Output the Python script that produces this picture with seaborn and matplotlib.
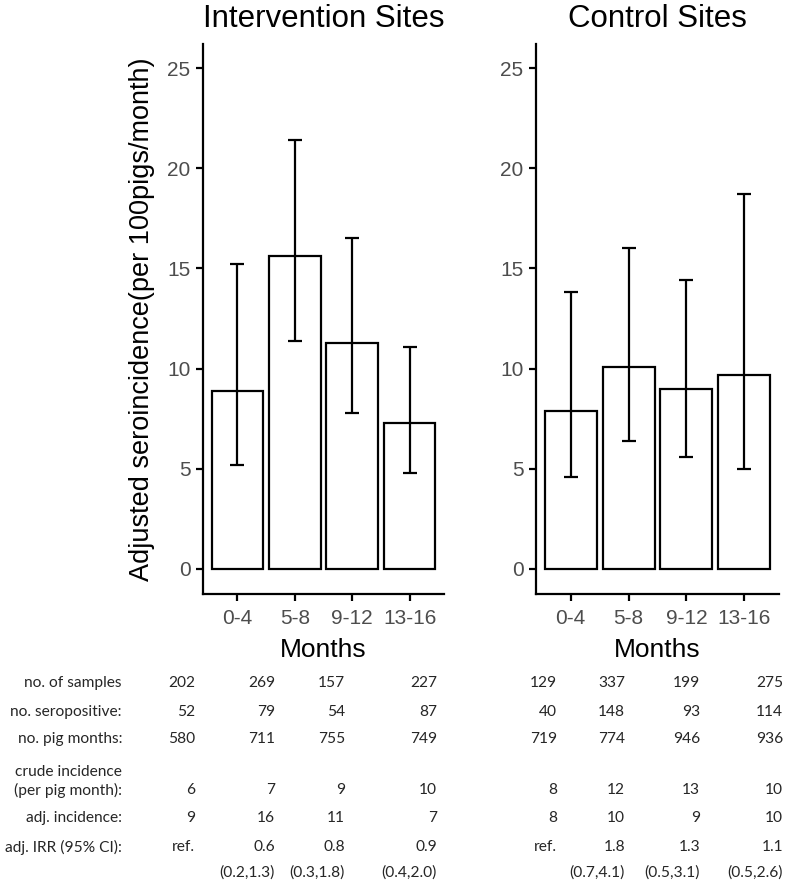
import matplotlib
matplotlib.use("Agg")
import matplotlib.pyplot as plt
import seaborn as sns
import pandas as pd
import numpy as np

# ---- data ----
months = ["0-4", "5-8", "9-12", "13-16"]
interv_inc = [8.9, 15.6, 11.3, 7.3]
interv_lo = [5.2, 11.4, 7.8, 4.8]
interv_hi = [15.2, 21.4, 16.5, 11.1]
ctrl_inc = [7.9, 10.1, 9.0, 9.7]
ctrl_lo = [4.6, 6.4, 5.6, 5.0]
ctrl_hi = [13.8, 16.0, 14.4, 18.7]

row_labels = ["no. of samples", "no. seropositive:", "no. pig months:",
              "crude incidence\n(per pig month):", "adj. incidence:",
              "adj. IRR (95% CI):", ""]
interv_samples = ["202", "269", "157", "227"]
interv_seropos = ["52", "79", "54", "87"]
interv_pigmonths = ["580", "711", "755", "749"]
interv_crude = ["6", "7", "9", "10"]
interv_adj = ["9", "16", "11", "7"]
interv_irr = ["ref.", "0.6", "0.8", "0.9"]
interv_ci = ["", "(0.2,1.3)", "(0.3,1.8)", "(0.4,2.0)"]
ctrl_samples = ["129", "337", "199", "275"]
ctrl_seropos = ["40", "148", "93", "114"]
ctrl_pigmonths = ["719", "774", "946", "936"]
ctrl_crude = ["8", "12", "13", "10"]
ctrl_adj = ["8", "10", "9", "10"]
ctrl_irr = ["ref.", "1.8", "1.3", "1.1"]
ctrl_ci = ["", "(0.7,4.1)", "(0.5,3.1)", "(0.5,2.6)"]

sns.set_theme(style="ticks")
plt.rcParams['font.family'] = ['Liberation Sans', 'DejaVu Sans']

W, H = 789, 885
fig = plt.figure(figsize=(W / 100, H / 100), dpi=100)

def px_axes(x0, x1, ytop, ybot):
    return fig.add_axes([x0 / W, (H - ybot) / H, (x1 - x0) / W, (ybot - ytop) / H])

ax1 = px_axes(203, 444, 44, 594)
ax2 = px_axes(536, 779, 44, 594)

panels = [
    (ax1, "Intervention Sites", interv_inc, interv_lo, interv_hi),
    (ax2, "Control Sites", ctrl_inc, ctrl_lo, ctrl_hi),
]

for ax, title, inc, lo, hi in panels:
    df = pd.DataFrame({"Months": months, "inc": inc})
    sns.barplot(data=df, x="Months", y="inc", ax=ax, color="white",
                edgecolor="black", linewidth=1.6, width=0.9, errorbar=None)
    inc_a = np.array(inc)
    yerr = [inc_a - np.array(lo), np.array(hi) - inc_a]
    ax.errorbar(np.arange(len(months)), inc_a, yerr=yerr, fmt="none",
                ecolor="black", elinewidth=1.6, capsize=5, capthick=1.6)
    ax.set_xlim(-0.6, 3.6)
    ax.set_ylim(-1.25, 26.2)
    ax.set_yticks([0, 5, 10, 15, 20, 25])
    ax.set_title(title, fontsize=22.5, pad=12, color="black")
    ax.set_xlabel("Months", fontsize=19, color="black", labelpad=7)
    ax.set_ylabel("")
    for s in ["top", "right"]:
        ax.spines[s].set_visible(False)
    for s in ["left", "bottom"]:
        ax.spines[s].set_linewidth(1.6)
        ax.spines[s].set_color("black")
    ax.tick_params(axis="both", labelsize=15, labelcolor="#4d4d4d",
                   length=5, width=1.6, color="black")
    ax.tick_params(axis="x", pad=6)
    ax.tick_params(axis="y", pad=4)

ax1.set_ylabel("Adjusted seroincidence(per 100pigs/month)", fontsize=19.5,
               color="black", labelpad=9)

# ---- table ----
tfont = ['Lato', 'DejaVu Sans']
tsize = 11.2
row_y = [683, 712, 739, 790, 818, 847, 873]
label_x = 122
interv_cols = [195, 275, 345, 437]
ctrl_cols = [557, 625, 700, 783]

interv_rows = [interv_samples, interv_seropos, interv_pigmonths, interv_crude,
               interv_adj, interv_irr, interv_ci]
ctrl_rows = [ctrl_samples, ctrl_seropos, ctrl_pigmonths, ctrl_crude,
             ctrl_adj, ctrl_irr, ctrl_ci]

for i, lab in enumerate(row_labels):
    y = row_y[i]
    if "\n" in lab:
        l1, l2 = lab.split("\n")
        fig.text(label_x / W, 1 - 772 / H, l1, ha="right", va="center",
                 fontsize=tsize, family=tfont)
        fig.text(label_x / W, 1 - y / H, l2, ha="right", va="center",
                 fontsize=tsize, family=tfont)
    elif lab:
        fig.text(label_x / W, 1 - y / H, lab, ha="right", va="center",
                 fontsize=tsize, family=tfont)
    for j, v in enumerate(interv_rows[i]):
        fig.text(interv_cols[j] / W, 1 - y / H, v, ha="right", va="center",
                 fontsize=tsize, family=tfont)
    for j, v in enumerate(ctrl_rows[i]):
        fig.text(ctrl_cols[j] / W, 1 - y / H, v, ha="right", va="center",
                 fontsize=tsize, family=tfont)

fig.savefig("out.png", dpi=100, facecolor="white")
